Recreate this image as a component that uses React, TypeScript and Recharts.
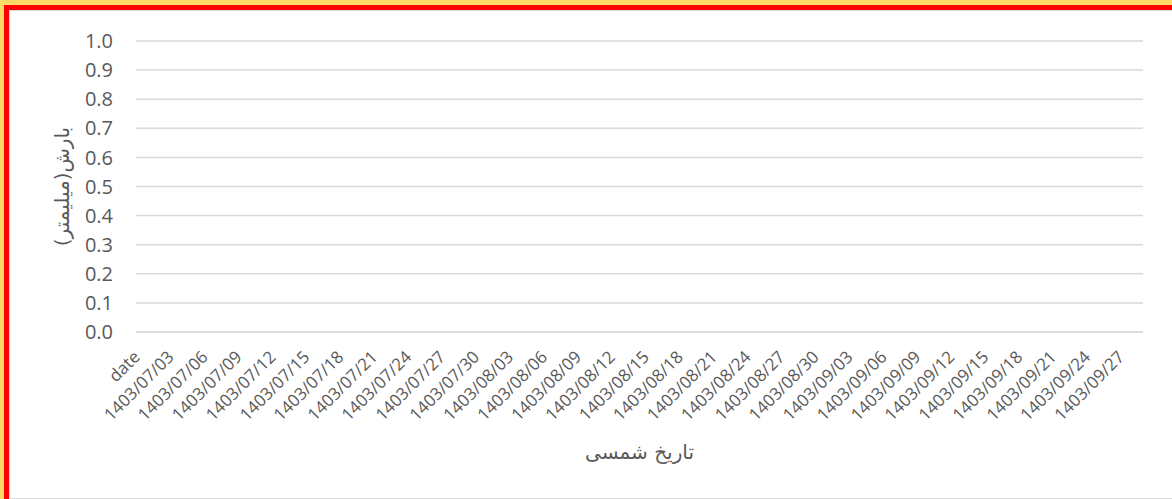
import { LineChart, Line, XAxis, YAxis, CartesianGrid, Label } from 'recharts';

// categories: header row + daily Shamsi dates
const month7 = [
  '1403/07/01', '1403/07/02', '1403/07/03', '1403/07/04', '1403/07/05', '1403/07/06', '1403/07/07', '1403/07/08', '1403/07/09', '1403/07/10',
  '1403/07/11', '1403/07/12', '1403/07/13', '1403/07/14', '1403/07/15', '1403/07/16', '1403/07/17', '1403/07/18', '1403/07/19', '1403/07/20',
  '1403/07/21', '1403/07/22', '1403/07/23', '1403/07/24', '1403/07/25', '1403/07/26', '1403/07/27', '1403/07/28', '1403/07/29', '1403/07/30',
];
const month8 = [
  '1403/08/01', '1403/08/02', '1403/08/03', '1403/08/04', '1403/08/05', '1403/08/06', '1403/08/07', '1403/08/08', '1403/08/09', '1403/08/10',
  '1403/08/11', '1403/08/12', '1403/08/13', '1403/08/14', '1403/08/15', '1403/08/16', '1403/08/17', '1403/08/18', '1403/08/19', '1403/08/20',
  '1403/08/21', '1403/08/22', '1403/08/23', '1403/08/24', '1403/08/25', '1403/08/26', '1403/08/27', '1403/08/28', '1403/08/29', '1403/08/30',
];
const month9 = [
  '1403/09/01', '1403/09/02', '1403/09/03', '1403/09/04', '1403/09/05', '1403/09/06', '1403/09/07', '1403/09/08', '1403/09/09', '1403/09/10',
  '1403/09/11', '1403/09/12', '1403/09/13', '1403/09/14', '1403/09/15', '1403/09/16', '1403/09/17', '1403/09/18', '1403/09/19', '1403/09/20',
  '1403/09/21', '1403/09/22', '1403/09/23', '1403/09/24', '1403/09/25', '1403/09/26', '1403/09/27', '1403/09/28', '1403/09/29',
];
const dates = ['date', ...month7, ...month8, ...month9];

// precipitation (mm) - no values recorded, nothing is plotted
const rainfall: (number | null)[] = [
  null,
  null, null, null, null, null, null, null, null, null, null,
  null, null, null, null, null, null, null, null, null, null,
  null, null, null, null, null, null, null, null, null, null,
  null, null, null, null, null, null, null, null, null, null,
  null, null, null, null, null, null, null, null, null, null,
  null, null, null, null, null, null, null, null, null, null,
  null, null, null, null, null, null, null, null, null, null,
  null, null, null, null, null, null, null, null, null, null,
  null, null, null, null, null, null, null, null, null,
];

const yTicks = [0, 0.1, 0.2, 0.3, 0.4, 0.5, 0.6, 0.7, 0.8, 0.9, 1.0];

const data = dates.map((d, i) => ({ date: d, rainfall: rainfall[i] }));

const textColor = '#595959';
const gridColor = '#d9d9d9';

const XTick = (props: any) => {
  const { x, y, payload } = props;
  const ax = x + 5;
  const ay = y + 24;
  return (
    <text
      x={ax}
      y={ay}
      transform={`rotate(-45, ${ax}, ${ay})`}
      textAnchor="end"
      fill={textColor}
      fontSize={17}
      fontFamily="'Open Sans', sans-serif"
    >
      {payload.value}
    </text>
  );
};

export default function App() {
  return (
    <div style={{ position: 'absolute', left: 0, top: 0, width: 1172, height: 499, overflow: 'hidden', background: '#FFD966' }}>
      <div style={{ position: 'absolute', left: 4, top: 5, width: 1300, height: 600, background: '#FF0000' }} />
      <div
        style={{
          position: 'absolute',
          left: 9,
          top: 10,
          width: 1300,
          height: 489,
          boxSizing: 'border-box',
          background: '#ffffff',
          border: `1.5px solid ${gridColor}`,
        }}
      />
      <div style={{ position: 'absolute', left: 0, top: 0 }}>
        <LineChart width={1172} height={499} data={data} margin={{ top: 41, right: 29, left: 0, bottom: 47 }}>
          <CartesianGrid vertical={false} stroke={gridColor} strokeWidth={1.5} horizontalValues={yTicks} />
          <XAxis
            dataKey="date"
            interval={2}
            height={120}
            tickLine={false}
            tickSize={0}
            axisLine={{ stroke: gridColor, strokeWidth: 1.5 }}
            tick={<XTick />}
          >
            <Label
              content={(p: any) => (
                <text
                  x={p.viewBox.x + p.viewBox.width / 2}
                  y={p.viewBox.y + 127}
                  textAnchor="middle"
                  fill={textColor}
                  fontSize={20}
                  fontFamily="'DejaVu Sans', sans-serif"
                >
                  تاریخ شمسی
                </text>
              )}
            />
          </XAxis>
          <YAxis
            type="number"
            width={136}
            domain={[0, 1]}
            allowDataOverflow
            ticks={yTicks}
            tickFormatter={(v: number) => v.toFixed(1)}
            axisLine={false}
            tickLine={false}
            tickSize={0}
            tickMargin={23}
            tick={{ fill: textColor, fontSize: 20, fontFamily: "'Open Sans', sans-serif" }}
          >
            <Label
              content={(p: any) => {
                const cx = 62;
                const cy = p.viewBox.y + p.viewBox.height / 2;
                return (
                  <text
                    x={cx}
                    y={cy}
                    transform={`rotate(-90, ${cx}, ${cy})`}
                    textAnchor="middle"
                    dominantBaseline="central"
                    fill={textColor}
                    fontSize={20}
                    fontFamily="'DejaVu Sans', sans-serif"
                  >
                    بارش(میلیمتر)
                  </text>
                );
              }}
            />
          </YAxis>
          <Line type="linear" dataKey="rainfall" stroke="#4472C4" strokeWidth={2.5} dot={false} isAnimationActive={false} />
        </LineChart>
      </div>
    </div>
  );
}
